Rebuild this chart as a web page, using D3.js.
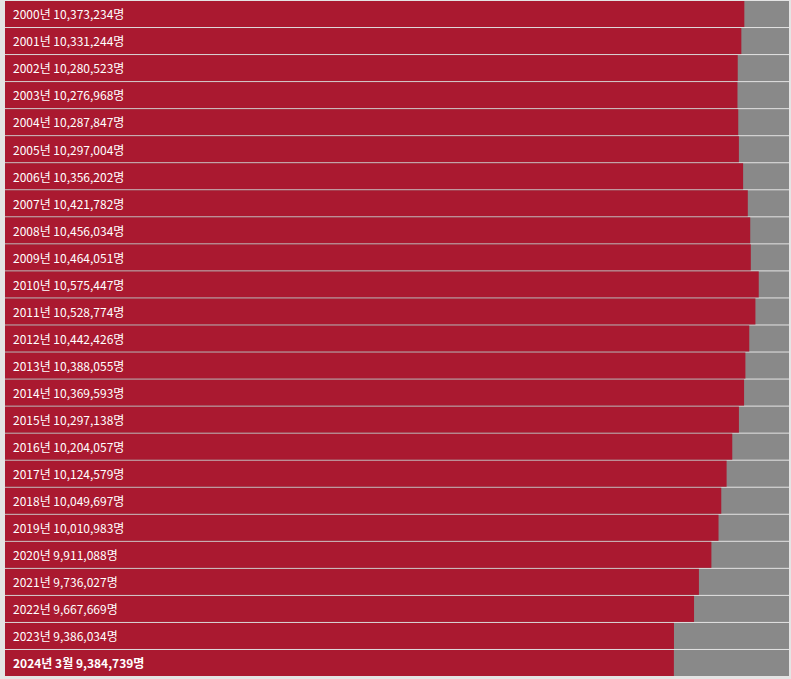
<!DOCTYPE html>
<html>
<head>
<meta charset="utf-8">
<script src="https://cdn.jsdelivr.net/npm/d3@7"></script>
<style>
  body { margin: 0; background: #fff; }
  svg { display: block; }
</style>
</head>
<body>
<div class="population-plot"></div>
<script>
// 서울시 인구 (연도별)
const years = ['2000년', '2001년', '2002년', '2003년', '2004년', '2005년', '2006년',
  '2007년', '2008년', '2009년', '2010년', '2011년', '2012년', '2013년', '2014년',
  '2015년', '2016년', '2017년', '2018년', '2019년', '2020년', '2021년', '2022년',
  '2023년', '2024년 3월'];
const population = [10373234, 10331244, 10280523, 10276968, 10287847, 10297004,
  10356202, 10421782, 10456034, 10464051, 10575447, 10528774, 10442426, 10388055,
  10369593, 10297138, 10204057, 10124579, 10049697, 10010983, 9911088, 9736027,
  9667669, 9386034, 9384739];
const maxValue = 11000000;

const data = years.map((y, i) => ({year: y, value: population[i], last: i === years.length - 1}));

const width = 791;
const height = 679;
const marginLeft = 5, marginRight = 789, marginTop = 1;
const pitch = 27, barH = 26;

const svg = d3.select('.population-plot')
    .append('svg')
    .attr('width', width)
    .attr('height', height);

svg.append('rect')
    .attr('width', width)
    .attr('height', height)
    .attr('fill', '#e4e4e4');

const x = d3.scaleLinear().domain([0, maxValue]).range([marginLeft, marginRight]);
const y = d3.scaleBand().domain(years).range([marginTop, marginTop + pitch * years.length])
    .paddingInner(1 - barH / pitch).paddingOuter(0).align(0);

const rows = svg.selectAll('g.row')
    .data(data)
    .enter()
    .append('g')
    .attr('class', 'row');

// 배경 (전체 폭)
rows.append('rect')
    .attr('x', x(0))
    .attr('y', d => y(d.year))
    .attr('width', x(maxValue) - x(0))
    .attr('height', y.bandwidth())
    .attr('fill', '#898989');

rows.append('rect')
    .attr('x', x(0))
    .attr('y', d => y(d.year))
    .attr('width', d => x(d.value) - x(0))
    .attr('height', y.bandwidth())
    .attr('fill', '#aa1930');

rows.append('text')
    .attr('x', x(0) + 8)
    .attr('y', d => y(d.year) + y.bandwidth() / 2 + 1)
    .attr('dy', '0.36em')
    .attr('fill', '#fff')
    .attr('font-family', '"Noto Sans CJK KR", "Noto Sans", sans-serif')
    .attr('font-size', 12)
    .attr('font-weight', d => d.last ? 'bold' : 'normal')
    .text(d => d.year + ' ' + d3.format(',')(d.value) + '명');
</script>
</body>
</html>
